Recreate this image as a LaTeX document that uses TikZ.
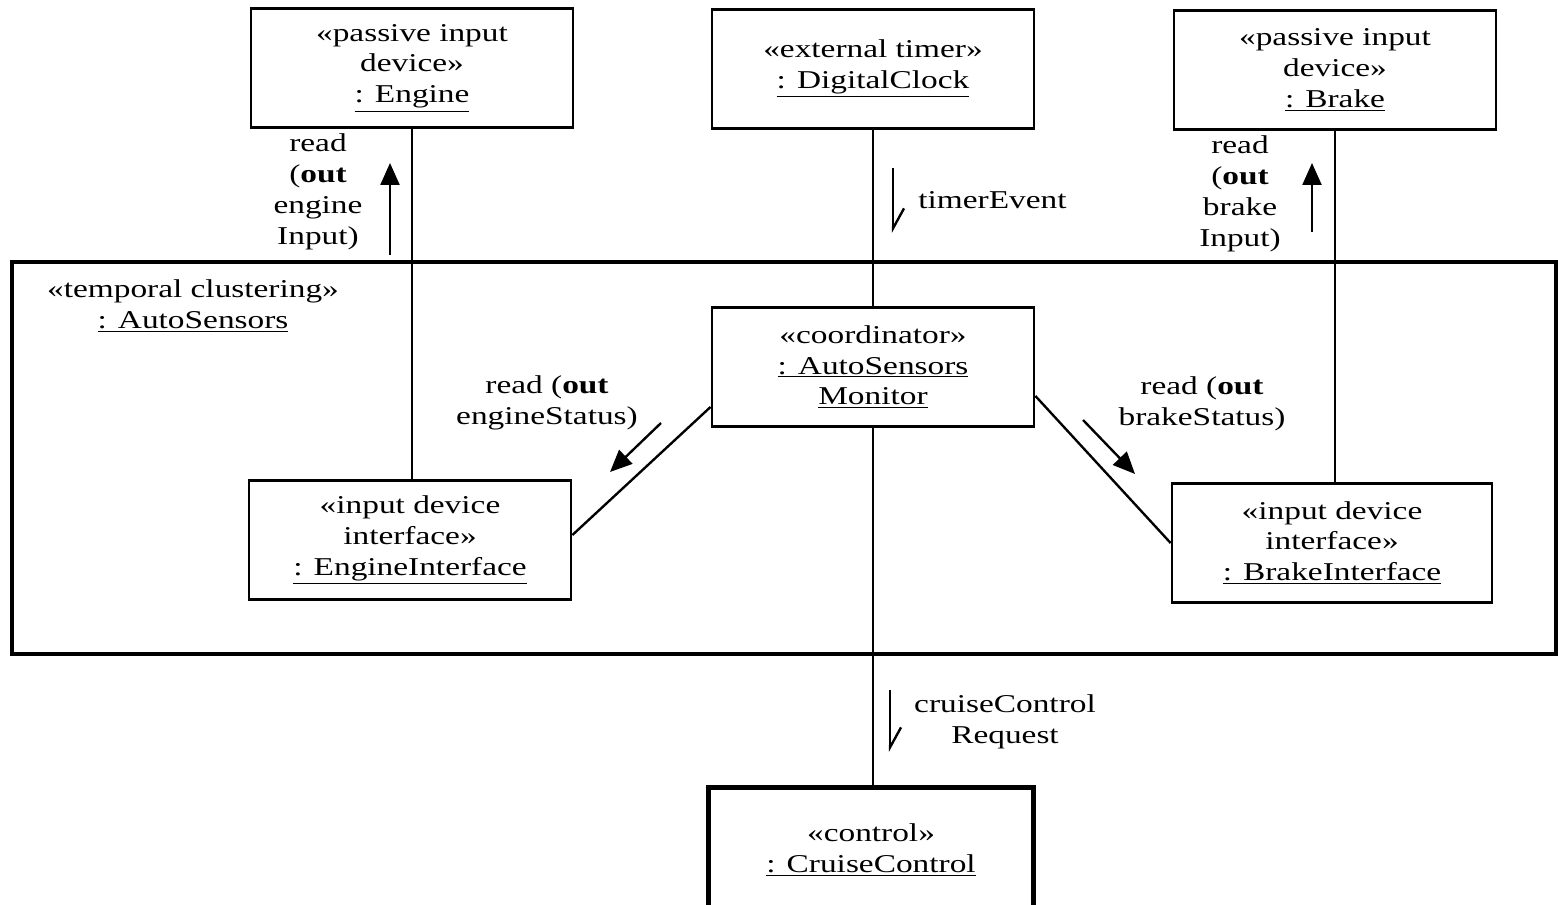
\documentclass[tikz,border=0pt]{standalone}
\usepackage{fontspec}
\setmainfont[FakeStretch=1.3]{Liberation Serif}
\usepackage{tikz}
\usetikzlibrary{positioning,arrows.meta,calc}

\begin{document}
\begin{tikzpicture}[
  x=0.2mm, y=-0.2mm,
  font=\fontsize{14.6}{17.6}\selectfont,
  obj/.style={draw, line width=1.6pt, align=center, inner sep=0pt,
              minimum width=64.4mm, minimum height=23.8mm},
  heavy/.style={obj, line width=2.8pt},
  lnk/.style={line width=1.35pt},
  msg/.style={-{Triangle[length=4.4mm, width=3.8mm]}, line width=1.35pt},
  async/.style={-{Straight Barb[left, length=4mm, width=4.4mm]}, line width=1.35pt},
  lab/.style={align=center, inner sep=0pt}
]
\useasboundingbox (0,0) rectangle (1558,905);
% ----- enclosing cluster -----
\node[draw, line width=2.8pt, minimum width=308.8mm, minimum height=78.4mm]
  (cluster) at (784,458) {};
\node[lab] (clustername) at (193,306) {«temporal clustering»\\\underline{: AutoSensors}};
% ----- objects -----
\node[obj]   (eng)   at (412,68)  {«passive input\\device»\\\underline{: Engine}};
\node[obj]   (clk)   at (873,69)  {«external timer»\\\underline{: DigitalClock}};
\node[obj]   (brk)   at (1335,70) {«passive input\\device»\\\underline{: Brake}};
\node[obj]   (coord) at (873,367) {«coordinator»\\\underline{: AutoSensors}\\\underline{Monitor}};
\node[obj]   (engif) at (410,540) {«input device\\interface»\\\underline{: EngineInterface}};
\node[obj, minimum width=64mm] (brkif) at (1332,543) {«input device\\interface»\\\underline{: BrakeInterface}};
\node[heavy, minimum width=65mm, minimum height=25mm] (cruise) at (871,850)
  {«control»\\\underline{: CruiseControl}};
% ----- links -----
\draw[lnk] (eng.south) -- (eng.south |- engif.north);
\draw[lnk] (brk.south) -- (brk.south |- brkif.north);
\draw[lnk] (clk.south) -- (clk.south |- coord.north);
\draw[lnk] (coord.south) -- (coord.south |- cruise.north);
\draw[lnk] ($(coord.south west)+(0,-21)$) -- ($(engif.east)+(0,-5)$);
\draw[lnk] ($(coord.east)+(0,29)$) -- (brkif.west);
% ----- messages -----
\coordinate (e0) at (390,255);  \coordinate (e1) at (390,163);
\coordinate (b0) at (1312,232); \coordinate (b1) at (1312,163);
\coordinate (t0) at (893,168);  \coordinate (t1) at (893,233);
\coordinate (c0) at (890,690);  \coordinate (c1) at (890,752);
\coordinate (es0) at (661,423); \coordinate (es1) at (610,472);
\coordinate (bs0) at (1083,420); \coordinate (bs1) at (1135,474);
\draw[msg] (e0) -- (e1);
\draw[msg] (b0) -- (b1);
\draw[msg] (es0) -- (es1);
\draw[msg] (bs0) -- (bs1);
\draw[async] (t0) -- (t1);
\draw[async] (c0) -- (c1);
\node[lab] (engread) at (318,192) {read\\(\textbf{out}\\engine\\Input)};
\node[lab] (brkread) at (1240,194) {read\\(\textbf{out}\\brake\\Input)};
\node[lab, anchor=west] (tick) at (918,200) {timerEvent};
\node[lab] (engst) at (547,403) {read (\textbf{out}\\engineStatus)};
\node[lab] (brkst) at (1202,404) {read (\textbf{out}\\brakeStatus)};
\node[lab] (cruisereq) at (1005,722) {cruiseControl\\Request};
\end{tikzpicture}
\end{document}
